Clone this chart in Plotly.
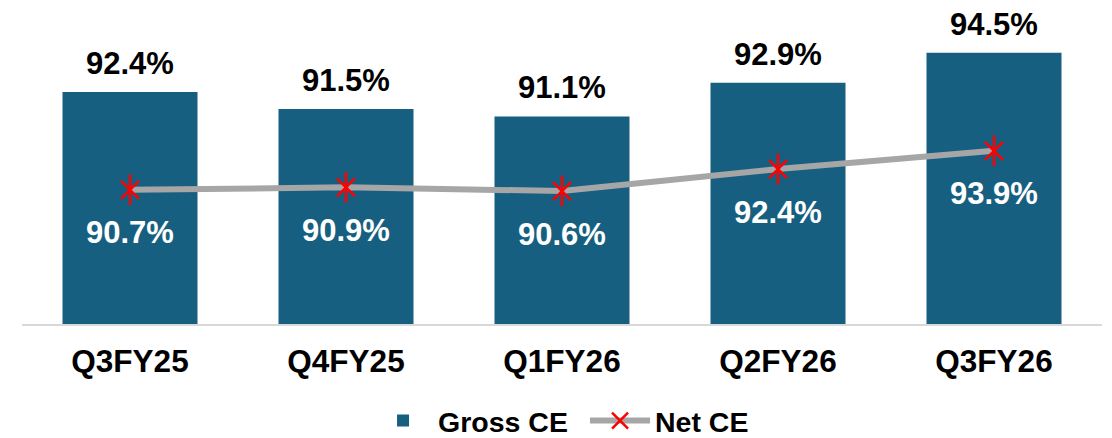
import plotly.graph_objects as go

categories = ["Q3FY25", "Q4FY25", "Q1FY26", "Q2FY26", "Q3FY26"]
gross_ce = [92.4, 91.5, 91.1, 92.9, 94.5]
net_ce = [90.7, 90.9, 90.6, 92.4, 93.9]

FONT = "Liberation Sans, Arial, sans-serif"
BAR_COLOR = "#175f80"
RED = "#ff0000"

fig = go.Figure()
fig.add_trace(go.Bar(
    x=categories, y=gross_ce, name="Gross CE",
    marker=dict(color=BAR_COLOR, line=dict(width=0)),
    yaxis="y", hoverinfo="skip",
))
fig.add_trace(go.Scatter(
    x=categories, y=net_ce, name="Net CE", mode="lines+markers",
    legendgroup="net",
    line=dict(color="#a6a6a6", width=6),
    marker=dict(symbol="x-thin-open", size=18, color=RED,
                line=dict(color=RED, width=2.5)),
    yaxis="y2", hoverinfo="skip",
))
fig.add_trace(go.Scatter(
    x=categories, y=net_ce, name="Net CE", mode="markers",
    legendgroup="net", showlegend=False,
    marker=dict(symbol="line-ns-open", size=22, color=RED,
                line=dict(color=RED, width=2.5)),
    yaxis="y2", hoverinfo="skip",
))

annotations = []
for c, v in zip(categories, gross_ce):
    annotations.append(dict(x=c, y=v, xref="x", yref="y", text=f"{v:.1f}%",
                            showarrow=False, yanchor="bottom", yshift=9,
                            font=dict(family=FONT, size=31, color="#000000", weight="bold")))
for c, v in zip(categories, net_ce):
    annotations.append(dict(x=c, y=v, xref="x", yref="y2", text=f"{v:.1f}%",
                            showarrow=False, yanchor="middle", yshift=-43,
                            font=dict(family=FONT, size=31, color="#ffffff", weight="bold")))

fig.update_layout(
    width=1112, height=438,
    margin=dict(l=22, r=10, t=10, b=114, autoexpand=False),
    paper_bgcolor="#ffffff", plot_bgcolor="#ffffff",
    bargap=0.375,
    showlegend=True,
    legend=dict(orientation="h", x=0.3204, xanchor="left", yref="container",
                y=17 / 438, yanchor="middle",
                font=dict(family=FONT, size=28.5, color="#000000", weight="bold"),
                itemwidth=60, tracegroupgap=0, entrywidth=142, entrywidthmode="pixels"),
    xaxis=dict(showgrid=False, showline=True, linecolor="#d9d9d9", linewidth=2,
               ticks="outside", ticklen=8, tickcolor="rgba(0,0,0,0)",
               tickfont=dict(family=FONT, size=31.5, color="#000000", weight="bold")),
    yaxis=dict(range=[80, 80 + 314 / 18.7], visible=False, showgrid=False),
    yaxis2=dict(range=[79.7, 79.7 + 314 / 12.2], overlaying="y", visible=False,
                showgrid=False),
    annotations=annotations,
)

fig.write_html("out.html", config={"displayModeBar": False},
               post_script="document.body.style.margin='0';document.body.style.overflow='hidden';")
